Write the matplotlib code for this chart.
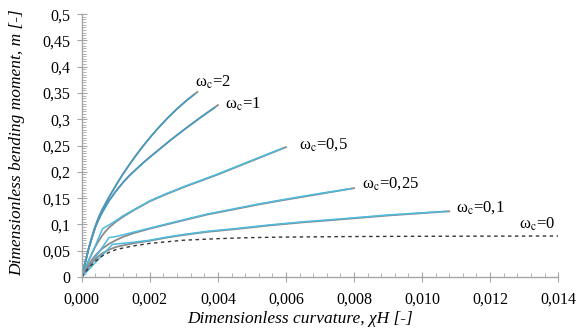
import matplotlib
matplotlib.use('Agg')
from matplotlib import pyplot as plt
from matplotlib.ticker import MultipleLocator, FuncFormatter

plt.rcParams['font.family'] = ['Liberation Serif', 'DejaVu Serif']
plt.rcParams['mathtext.fontset'] = 'stix'

# Moment-curvature curves for each reinforcement ratio (gray = smooth, blue = simplified)
x_w2 = [0, 0.0001, 0.0002, 0.0003, 0.0004, 0.0005, 0.0006, 0.0008, 0.001, 0.0012, 0.0014,
        0.0016, 0.0018, 0.002, 0.0022, 0.0025, 0.0028, 0.0031, 0.0034]
m_w2 = [0, 0.028, 0.054, 0.077, 0.097, 0.114, 0.128, 0.152, 0.174, 0.195, 0.214,
        0.232, 0.249, 0.265, 0.28, 0.301, 0.32, 0.337, 0.352]

x_w1 = [0, 0.0001, 0.0002, 0.0003, 0.0004, 0.0005, 0.0006, 0.0008, 0.001, 0.0012, 0.0014,
        0.0016, 0.0018, 0.002, 0.0023, 0.0026, 0.003, 0.0035, 0.004]
m_w1 = [0, 0.027, 0.053, 0.075, 0.095, 0.11, 0.123, 0.145, 0.163, 0.179, 0.193,
        0.205, 0.217, 0.228, 0.244, 0.26, 0.28, 0.304, 0.327]

x_w05 = [0, 0.0001, 0.0002, 0.0003, 0.0004, 0.0005, 0.0006, 0.0007, 0.0008, 0.001, 0.0012,
         0.0015, 0.002, 0.0025, 0.003, 0.0035, 0.004, 0.005, 0.006]
m_w05 = [0, 0.016, 0.031, 0.045, 0.058, 0.069, 0.079, 0.087, 0.094, 0.105, 0.114,
         0.126, 0.144, 0.158, 0.171, 0.183, 0.195, 0.221, 0.247]
x_w05_b = [0, 0.00061, 0.0008, 0.001, 0.0012, 0.0015, 0.002, 0.0025, 0.003, 0.0035, 0.004,
           0.005, 0.0059]
m_w05_b = [0, 0.092, 0.099, 0.107, 0.116, 0.127, 0.145, 0.159, 0.172, 0.184, 0.196,
           0.222, 0.245]

x_w025 = [0, 0.0001, 0.0002, 0.0003, 0.0004, 0.0005, 0.0006, 0.0008, 0.001, 0.0012, 0.0015,
          0.002, 0.0025, 0.003, 0.0037, 0.0045, 0.0052, 0.0059, 0.007, 0.008]
m_w025 = [0, 0.012, 0.023, 0.033, 0.041, 0.048, 0.054, 0.063, 0.07, 0.076, 0.083,
          0.092, 0.1, 0.108, 0.119, 0.129, 0.138, 0.146, 0.158, 0.169]
x_w025_b = [0, 0.0008, 0.001, 0.0012, 0.0015, 0.002, 0.0025, 0.003, 0.0037, 0.0045, 0.0052,
            0.0059, 0.007, 0.0079]
m_w025_b = [0, 0.075, 0.077, 0.08, 0.085, 0.093, 0.101, 0.109, 0.12, 0.13, 0.139,
            0.147, 0.159, 0.168]

x_w01 = [0, 0.0001, 0.0002, 0.0003, 0.0004, 0.0005, 0.0006, 0.0008, 0.001, 0.0012, 0.0015,
         0.002, 0.0025, 0.003, 0.0037, 0.0045, 0.0055, 0.0065, 0.0075, 0.009, 0.0108]
m_w01 = [0, 0.01, 0.019, 0.027, 0.034, 0.04, 0.045, 0.052, 0.057, 0.06, 0.064,
         0.069, 0.075, 0.08, 0.086, 0.091, 0.098, 0.104, 0.109, 0.117, 0.125]
x_w01_b = [0, 0.0009, 0.0012, 0.0015, 0.002, 0.0025, 0.003, 0.0037, 0.0045, 0.0055, 0.0065,
           0.0075, 0.009, 0.0107]
m_w01_b = [0, 0.062, 0.064, 0.066, 0.07, 0.076, 0.081, 0.087, 0.092, 0.099, 0.105,
           0.11, 0.118, 0.125]

x_w0 = [0, 0.0001, 0.0002, 0.0003, 0.0004, 0.0005, 0.0006, 0.0008, 0.001, 0.0012, 0.0015,
        0.002, 0.0025, 0.003, 0.004, 0.005, 0.006, 0.008, 0.01, 0.014]
m_w0 = [0, 0.009, 0.017, 0.024, 0.03, 0.035, 0.04, 0.047, 0.052, 0.055, 0.059,
        0.064, 0.067, 0.07, 0.073, 0.075, 0.076, 0.077, 0.0775, 0.078]

labels = ['2', '1', '0,5', '0,25', '0,1', '0']
label_x = [0.00332, 0.0042, 0.00638, 0.00823, 0.011, 0.01286]
label_y = [0.371, 0.328, 0.251, 0.178, 0.132, 0.101]

gray = '#8a8a8a'
blue = '#4bbbe0'
dark_blue = '#3f9cc4'

fig = plt.figure(figsize=(5.76, 3.29), dpi=100)
ax = fig.add_axes([0.142, 0.158, 0.827, 0.799])

ax.plot(x_w2, m_w2, color=gray, lw=1.3)
ax.plot(x_w2[:-1] + [0.0033], m_w2[:-1] + [0.347], color=dark_blue, lw=1.1)
ax.plot(x_w1, m_w1, color=gray, lw=1.3)
ax.plot(x_w1[:-1] + [0.0039], m_w1[:-1] + [0.322], color=dark_blue, lw=1.1)
ax.plot(x_w05, m_w05, color=gray, lw=1.3)
ax.plot(x_w05_b, m_w05_b, color=blue, lw=1.1)
ax.plot(x_w025, m_w025, color=gray, lw=1.3)
ax.plot(x_w025_b, m_w025_b, color=blue, lw=1.1)
ax.plot(x_w01, m_w01, color=gray, lw=1.3)
ax.plot(x_w01_b, m_w01_b, color=blue, lw=1.1)
ax.plot(x_w0, m_w0, color='#333333', lw=1.0, ls=(0, (2.5, 2.5)))

for lab, lx, ly in zip(labels, label_x, label_y):
    ax.text(lx, ly, r'ω$_\mathrm{c}$=' + lab, fontsize=12, va='center', ha='left')

ax.set_xlim(0, 0.014)
ax.set_ylim(0, 0.5)
ax.xaxis.set_major_locator(MultipleLocator(0.002))
ax.xaxis.set_minor_locator(MultipleLocator(0.0004))
ax.yaxis.set_major_locator(MultipleLocator(0.05))
ax.yaxis.set_minor_locator(MultipleLocator(0.005))
ax.xaxis.set_major_formatter(FuncFormatter(lambda v, p: f'{v:.3f}'.replace('.', ',')))
ax.yaxis.set_major_formatter(FuncFormatter(
    lambda v, p: ('%g' % round(v, 3)).replace('.', ',')))

spine_c = '#a6a6a6'
for s in ['top', 'right']:
    ax.spines[s].set_visible(False)
for s in ['left', 'bottom']:
    ax.spines[s].set_color(spine_c)
    ax.spines[s].set_linewidth(1.0)
ax.tick_params(which='major', direction='inout', length=7, color=spine_c, labelsize=11.5)
ax.tick_params(axis='x', which='major', pad=7)
ax.tick_params(axis='y', which='major', pad=5)
ax.tick_params(which='minor', direction='in', length=3, color=spine_c)

ax.set_xlabel('Dimensionless curvature, χH [-]', fontsize=12.5, style='italic')
ax.xaxis.set_label_coords(0.458, -0.13)
ax.set_ylabel('Dimensionless bending moment, m [-]', fontsize=12.5, style='italic')
ax.yaxis.set_label_coords(-0.118, 0.51)

fig.savefig('out.png', dpi=100)
